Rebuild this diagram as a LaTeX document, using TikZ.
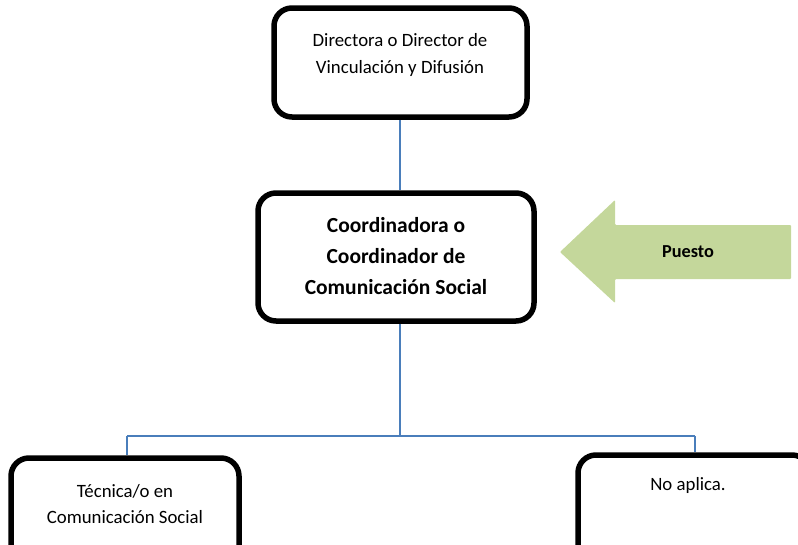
\documentclass[tikz,border=0pt]{standalone}
\usepackage{fontspec}
\setmainfont{Carlito}
\definecolor{conn}{HTML}{4A7EBB}
\definecolor{pgreen}{HTML}{C4D79B}
\tikzset{
  box/.style={draw=black, line width=5.5pt, rounded corners=18pt, inner sep=0pt},
  conn/.style={draw=conn, line width=1.3pt},
  lbl/.style={align=center, inner sep=0pt, font=\fontsize{18.8}{26.5}\selectfont},
  blbl/.style={align=center, inner sep=0pt, font=\fontsize{21.5}{31}\selectfont\bfseries},
}
\begin{document}
\begin{tikzpicture}[x=1pt,y=-1pt]
\clip (0,0) rectangle (798,544);
\useasboundingbox (0,0) rectangle (798,544);
% boxes
\node[box, minimum width=253pt, minimum height=109pt] (top) at (400.5,62.5) {};
\node[box, minimum width=276pt, minimum height=128pt] (mid) at (396,257) {};
\node[box, minimum width=228pt, minimum height=120pt] (left) at (125,518) {};
\node[box, minimum width=232pt, minimum height=120pt] (right) at (694,515) {};
% texts
\node[lbl] (ttop) at (400,55) {Directora o Director de\\Vinculación y Difusión};
\node[blbl] (tmid) at (396,256) {Coordinadora o\\Coordinador de\\Comunicación Social};
\node[lbl] (tleft) at (125,504) {Técnica/o en\\Comunicación Social};
\node[lbl] (tright) at (688,485) {No aplica.};
% arrow
\fill[pgreen, rounded corners=1pt] (560,252) -- (615,200) -- (615,225) -- (791,225) -- (791,279) -- (615,279) -- (615,303) -- cycle;
\node[inner sep=0pt, font=\fontsize{18.3}{20}\selectfont\bfseries] (puesto) at (688,252) {Puesto};
% connectors
\coordinate (bus) at (400,436);
\coordinate (lj) at (127,436);
\coordinate (rj) at (695,436);
\draw[conn] (top.south -| bus) -- (mid.north -| bus);
\draw[conn] (mid.south -| bus) -- (bus);
\draw[conn] (lj) -- (rj);
\draw[conn] (lj) -- (lj |- left.north);
\draw[conn] (rj) -- (rj |- right.north);
\end{tikzpicture}
\end{document}
